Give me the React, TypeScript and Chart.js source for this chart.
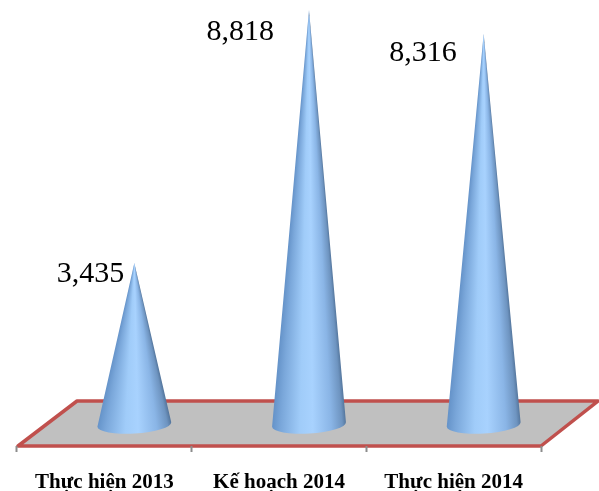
import { useEffect, useRef } from "react";
import { Chart, registerables } from "chart.js";

Chart.register(...registerables);

const categories = ["Thực hiện 2013", "Kế hoạch 2014", "Thực hiện 2014"];
const plannedAndActual = [3435, 8818, 8316];
const valueLabels = ["3,435", "8,818", "8,316"];

const SERIF = '"Liberation Serif", "Times New Roman", serif';
const FLOOR_DEPTH_X = 60;
const FLOOR_DEPTH_Y = 45;
const CONE_LIFT = 21.5;

// Where each value sits relative to its cone's tip: gap to the left, drop below the tip.
const labelGapX = [10, 35, 27];
const labelDropY = [19, 30, 27];

// Shading across the cone, from the right silhouette (0) to the left one (1).
const coneShades: [number, string][] = [
  [0, "#56789f"],
  [0.05, "#6e94c0"],
  [0.2, "#8ab5e6"],
  [0.45, "#a8d2fe"],
  [0.62, "#a0ccf9"],
  [0.88, "#7aa7da"],
  [1, "#6492c8"],
];

// The floor parallelogram sits behind the axis; it runs from the front edge backwards.
const floorPlugin = {
  id: "floor",
  beforeDraw(chart: any) {
    const { ctx, chartArea } = chart;
    const { left, right, bottom } = chartArea;
    ctx.save();
    ctx.beginPath();
    ctx.moveTo(left + 1, bottom);
    ctx.lineTo(right, bottom);
    ctx.lineTo(right + FLOOR_DEPTH_X - 3, bottom - FLOOR_DEPTH_Y);
    ctx.lineTo(left + FLOOR_DEPTH_X, bottom - FLOOR_DEPTH_Y);
    ctx.closePath();
    ctx.fillStyle = "#c0c0c0";
    ctx.fill();
    ctx.lineWidth = 3.5;
    ctx.lineJoin = "round";
    ctx.strokeStyle = "#c0504d";
    ctx.stroke();
    ctx.restore();
  },
};

// Each bar is rendered as a cone standing mid-way across the floor, with its value beside the tip.
const conePlugin = {
  id: "cones",
  afterDatasetsDraw(chart: any) {
    const { ctx } = chart;
    chart.getDatasetMeta(0).data.forEach((bar: any, i: number) => {
      const cx = bar.x + FLOOR_DEPTH_X / 2;
      const tipY = bar.y - CONE_LIFT;
      const baseY = bar.base - CONE_LIFT;
      const rx = bar.width / 2;
      const ry = 9;

      // Conic shading keeps the light band converging on the tip.
      const rightAngle = Math.atan2(baseY - tipY, rx);
      const leftAngle = Math.PI - rightAngle;
      const start = rightAngle - 0.1;
      const shade = ctx.createConicGradient(start, cx, tipY);
      coneShades.forEach(([t, color]) => {
        const angle = rightAngle + t * (leftAngle - rightAngle);
        shade.addColorStop((angle - start) / (2 * Math.PI), color);
      });

      ctx.save();
      ctx.beginPath();
      ctx.moveTo(cx, tipY);
      ctx.ellipse(cx, baseY, rx, ry, -0.06, 0, Math.PI);
      ctx.closePath();
      ctx.fillStyle = shade;
      ctx.fill();

      ctx.fillStyle = "#000000";
      ctx.font = `30px ${SERIF}`;
      ctx.textAlign = "right";
      ctx.textBaseline = "alphabetic";
      ctx.fillText(valueLabels[i], cx - labelGapX[i], tipY + labelDropY[i]);
      ctx.restore();
    });
  },
};

export default function App() {
  const canvasRef = useRef<HTMLCanvasElement | null>(null);

  useEffect(() => {
    const chart = new Chart(canvasRef.current as HTMLCanvasElement, {
      type: "bar",
      data: {
        labels: categories,
        datasets: [
          {
            data: plannedAndActual,
            backgroundColor: "transparent",
            borderWidth: 0,
            barPercentage: 1,
            categoryPercentage: 0.4236,
          },
        ],
      },
      options: {
        responsive: false,
        animation: false,
        layout: { padding: { left: 17, right: 58, top: 23, bottom: 0 } },
        plugins: { legend: { display: false }, tooltip: { enabled: false } },
        scales: {
          x: {
            border: { display: false },
            grid: {
              drawOnChartArea: false,
              drawTicks: true,
              tickLength: 6,
              tickColor: "#8c8c8c",
              tickWidth: 2,
            },
            ticks: {
              color: "#000000",
              padding: 18,
              maxRotation: 0,
              font: { family: SERIF, size: 21, weight: "bold" },
            },
            afterFit(scale: any) {
              scale.height = 45;
            },
          },
          y: { display: false, min: 0, max: 9000 },
        },
      },
      plugins: [floorPlugin, conePlugin],
    } as any);
    return () => chart.destroy();
  }, []);

  return (
    <div style={{ position: "absolute", left: 0, top: 0, width: 599, height: 491, background: "#ffffff" }}>
      <canvas ref={canvasRef} width={599} height={491} style={{ display: "block" }} />
    </div>
  );
}
